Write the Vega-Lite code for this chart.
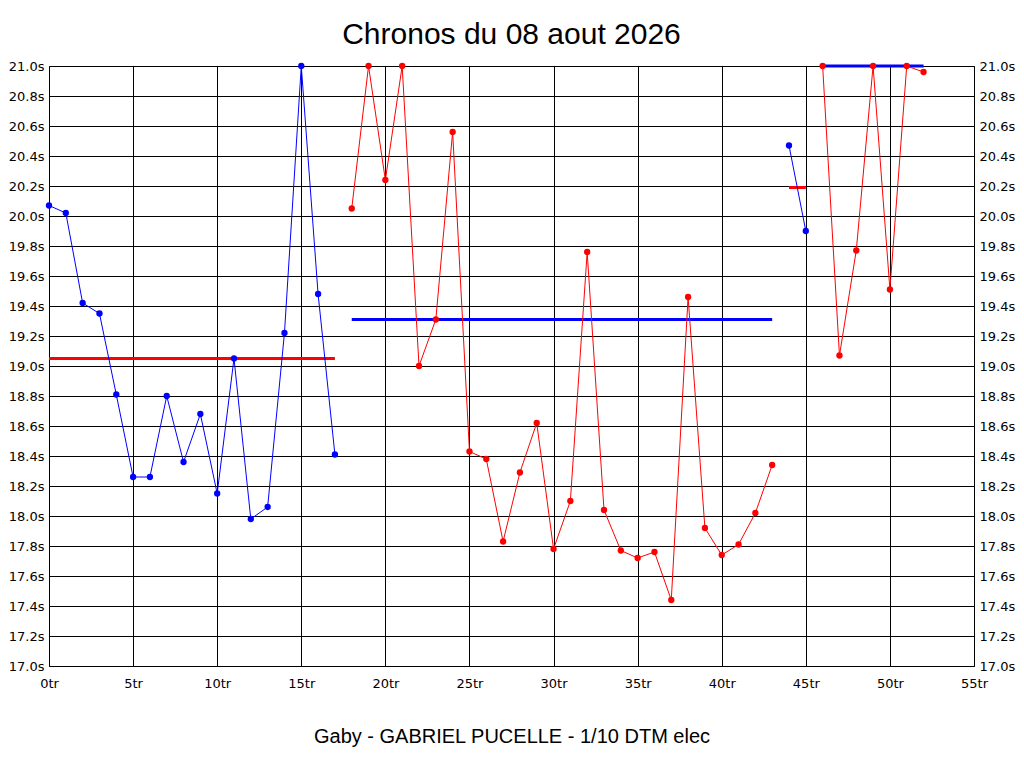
{
  "$schema": "https://vega.github.io/schema/vega-lite/v6.json",
  "width": 925,
  "height": 600,
  "autosize": "none",
  "padding": {"left": 49, "top": 66, "right": 50, "bottom": 102},
  "background": "white",
  "title": {
    "text": "Chronos du 08 aout 2026",
    "font": "Liberation Sans",
    "fontSize": 30,
    "fontWeight": "normal",
    "color": "black",
    "baseline": "alphabetic",
    "offset": 23,
    "dy": 37
  },
  "datasets": {
    "chronos": [
      {"tour": 0, "temps": 20.07, "serie": 1},
      {"tour": 1, "temps": 20.02, "serie": 1},
      {"tour": 2, "temps": 19.42, "serie": 1},
      {"tour": 3, "temps": 19.35, "serie": 1},
      {"tour": 4, "temps": 18.81, "serie": 1},
      {"tour": 5, "temps": 18.26, "serie": 1},
      {"tour": 6, "temps": 18.26, "serie": 1},
      {"tour": 7, "temps": 18.80, "serie": 1},
      {"tour": 8, "temps": 18.36, "serie": 1},
      {"tour": 9, "temps": 18.68, "serie": 1},
      {"tour": 10, "temps": 18.15, "serie": 1},
      {"tour": 11, "temps": 19.05, "serie": 1},
      {"tour": 12, "temps": 17.98, "serie": 1},
      {"tour": 13, "temps": 18.06, "serie": 1},
      {"tour": 14, "temps": 19.22, "serie": 1},
      {"tour": 15, "temps": 21.0, "serie": 1},
      {"tour": 16, "temps": 19.48, "serie": 1},
      {"tour": 17, "temps": 18.41, "serie": 1},
      {"tour": 18, "temps": 20.05, "serie": 2},
      {"tour": 19, "temps": 21.0, "serie": 2},
      {"tour": 20, "temps": 20.24, "serie": 2},
      {"tour": 21, "temps": 21.0, "serie": 2},
      {"tour": 22, "temps": 19.00, "serie": 2},
      {"tour": 23, "temps": 19.31, "serie": 2},
      {"tour": 24, "temps": 20.56, "serie": 2},
      {"tour": 25, "temps": 18.43, "serie": 2},
      {"tour": 26, "temps": 18.38, "serie": 2},
      {"tour": 27, "temps": 17.83, "serie": 2},
      {"tour": 28, "temps": 18.29, "serie": 2},
      {"tour": 29, "temps": 18.62, "serie": 2},
      {"tour": 30, "temps": 17.78, "serie": 2},
      {"tour": 31, "temps": 18.10, "serie": 2},
      {"tour": 32, "temps": 19.76, "serie": 2},
      {"tour": 33, "temps": 18.04, "serie": 2},
      {"tour": 34, "temps": 17.77, "serie": 2},
      {"tour": 35, "temps": 17.72, "serie": 2},
      {"tour": 36, "temps": 17.76, "serie": 2},
      {"tour": 37, "temps": 17.44, "serie": 2},
      {"tour": 38, "temps": 19.46, "serie": 2},
      {"tour": 39, "temps": 17.92, "serie": 2},
      {"tour": 40, "temps": 17.74, "serie": 2},
      {"tour": 41, "temps": 17.81, "serie": 2},
      {"tour": 42, "temps": 18.02, "serie": 2},
      {"tour": 43, "temps": 18.34, "serie": 2},
      {"tour": 44, "temps": 20.47, "serie": 3},
      {"tour": 45, "temps": 19.90, "serie": 3},
      {"tour": 46, "temps": 21.0, "serie": 4},
      {"tour": 47, "temps": 19.07, "serie": 4},
      {"tour": 48, "temps": 19.77, "serie": 4},
      {"tour": 49, "temps": 21.0, "serie": 4},
      {"tour": 50, "temps": 19.51, "serie": 4},
      {"tour": 51, "temps": 21.0, "serie": 4},
      {"tour": 52, "temps": 20.96, "serie": 4}
    ],
    "moyennes": [
      {"tour": 0, "tour_fin": 17, "temps": 19.05, "serie": 1},
      {"tour": 18, "tour_fin": 43, "temps": 19.31, "serie": 2},
      {"tour": 44, "tour_fin": 45, "temps": 20.19, "serie": 3},
      {"tour": 46, "tour_fin": 52, "temps": 21.0, "serie": 4}
    ]
  },
  "encoding": {
    "x": {
      "field": "tour",
      "type": "quantitative",
      "scale": {"domain": [0, 55], "nice": false, "zero": false},
      "axis": {
        "values": [0, 5, 10, 15, 20, 25, 30, 35, 40, 45, 50, 55],
        "labelExpr": "datum.value + 'tr'",
        "labelFlush": false,
        "labelOverlap": false,
        "labelPadding": 11,
        "grid": true,
        "title": "Gaby - GABRIEL PUCELLE - 1/10 DTM elec",
        "titleFont": "Liberation Sans",
        "titleFontSize": 20,
        "titleFontWeight": "normal",
        "titleColor": "black",
        "titleBaseline": "alphabetic",
        "titleY": 76
      }
    },
    "y": {
      "field": "temps",
      "type": "quantitative",
      "scale": {"domain": [17, 21], "nice": false, "zero": false},
      "axis": {
        "orient": "left",
        "values": [17, 17.2, 17.4, 17.6, 17.8, 18, 18.2, 18.4, 18.6, 18.8, 19, 19.2, 19.4, 19.6, 19.8, 20, 20.2, 20.4, 20.6, 20.8, 21],
        "labelExpr": "format(datum.value, '.1f') + 's'",
        "labelPadding": 5,
        "grid": true,
        "title": null
      }
    }
  },
  "layer": [
    {
      "data": {"name": "moyennes"},
      "mark": {"type": "rule", "strokeWidth": 3},
      "encoding": {
        "x2": {"field": "tour_fin"},
        "y": {"field": "temps", "type": "quantitative", "axis": null},
        "color": {
          "field": "serie",
          "type": "nominal",
          "scale": {"domain": [1, 2, 3, 4], "range": ["#ff0000", "#0000ff", "#ff0000", "#0000ff"]},
          "legend": null
        }
      }
    },
    {
      "data": {"name": "chronos"},
      "mark": {"type": "line", "strokeWidth": 1},
      "encoding": {
        "color": {
          "field": "serie",
          "type": "nominal",
          "scale": {"domain": [1, 2, 3, 4], "range": ["#0000ff", "#ff0000", "#0000ff", "#ff0000"]},
          "legend": null
        }
      }
    },
    {
      "data": {"name": "chronos"},
      "mark": {"type": "point", "filled": true, "size": 40, "opacity": 1},
      "encoding": {
        "y": {
          "field": "temps",
          "type": "quantitative",
          "axis": {
            "orient": "right",
            "values": [17, 17.2, 17.4, 17.6, 17.8, 18, 18.2, 18.4, 18.6, 18.8, 19, 19.2, 19.4, 19.6, 19.8, 20, 20.2, 20.4, 20.6, 20.8, 21],
            "labelExpr": "format(datum.value, '.1f') + 's'",
            "labelPadding": 5,
            "grid": false,
            "title": null
          }
        },
        "color": {
          "field": "serie",
          "type": "nominal",
          "scale": {"domain": [1, 2, 3, 4], "range": ["#0000ff", "#ff0000", "#0000ff", "#ff0000"]},
          "legend": null
        }
      }
    }
  ],
  "resolve": {"scale": {"color": "independent"}, "axis": {"y": "independent"}},
  "config": {
    "view": {"stroke": "black", "strokeWidth": 1},
    "axis": {
      "labelFont": "DejaVu Sans",
      "labelFontSize": 13,
      "labelColor": "black",
      "gridColor": "black",
      "gridOpacity": 1,
      "gridWidth": 1,
      "ticks": false,
      "domain": false
    }
  }
}
